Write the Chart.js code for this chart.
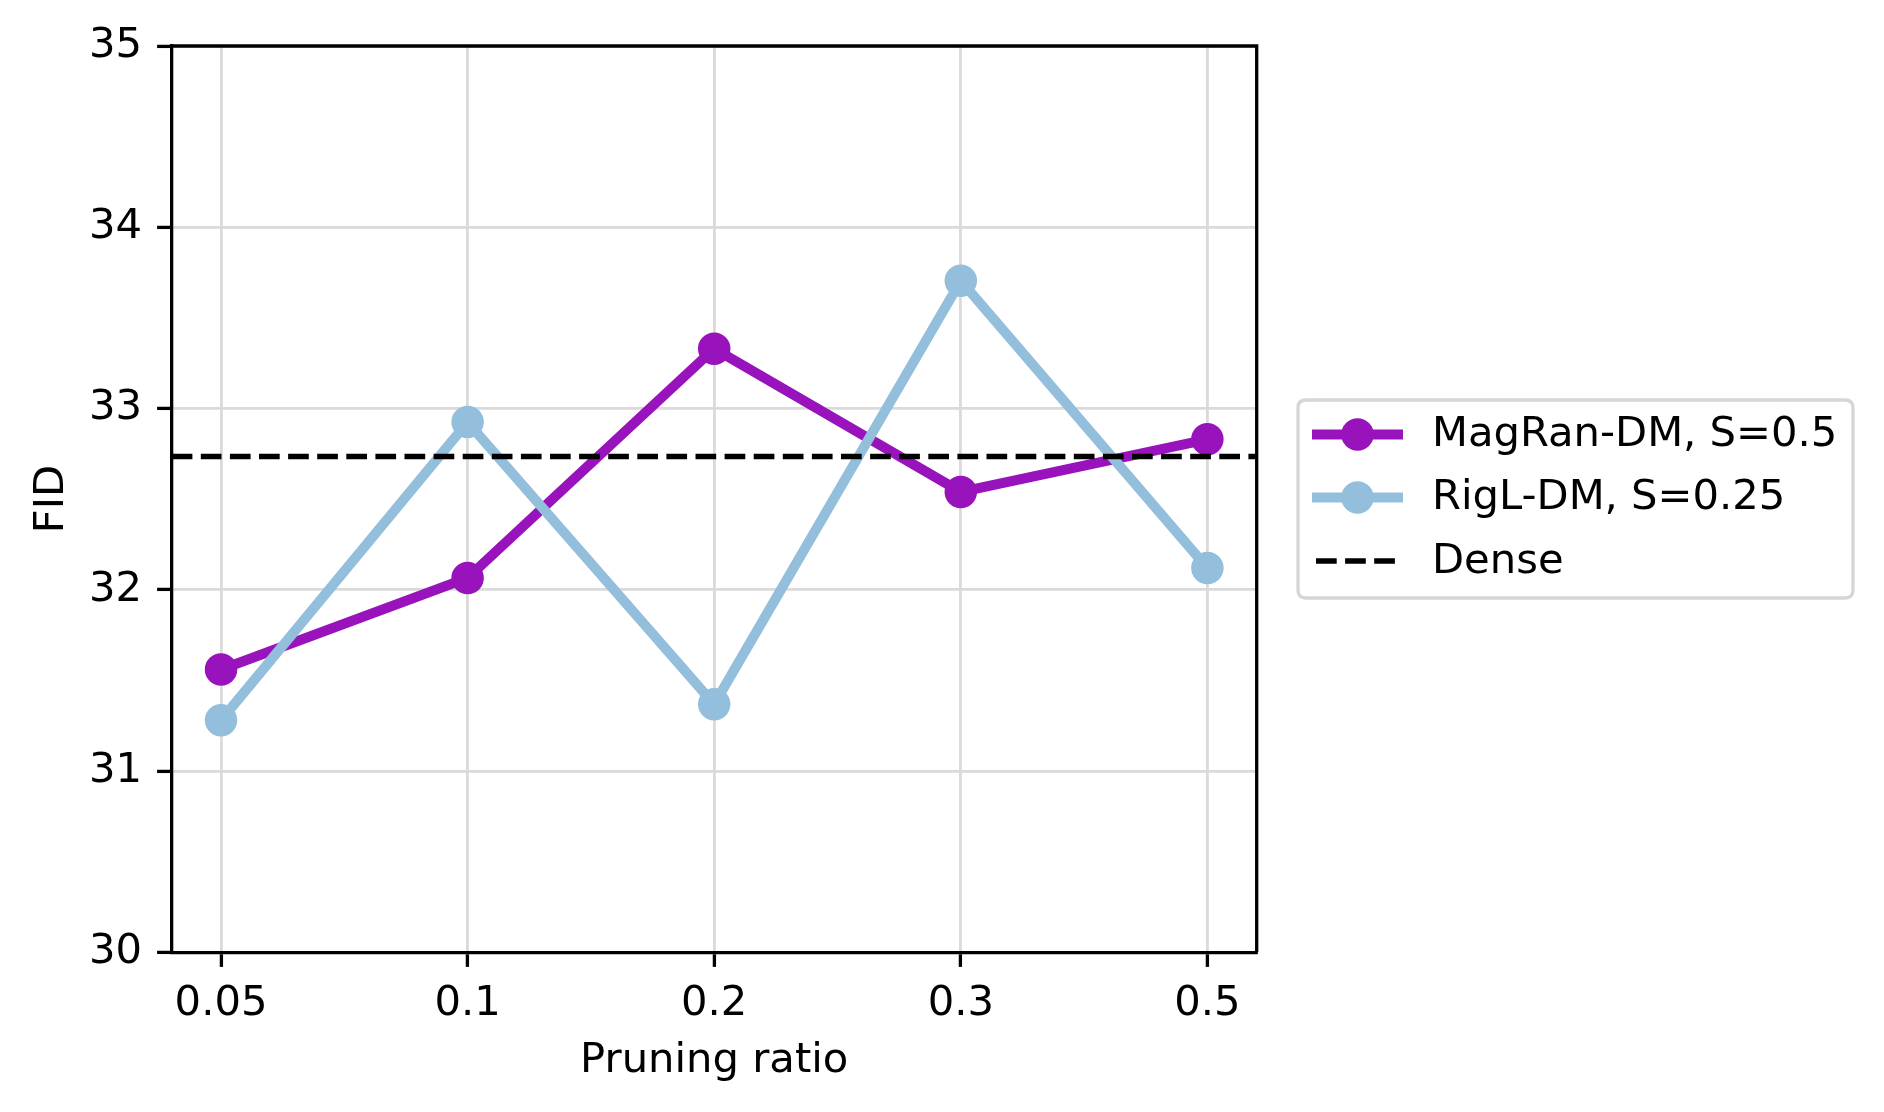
<!DOCTYPE html>
<html>
<head>
<meta charset="utf-8">
<script src="https://cdn.jsdelivr.net/npm/chart.js@4.4.1/dist/chart.umd.min.js"></script>
<style>
html,body{margin:0;padding:0;background:#fff;}
#wrap{width:1884px;height:1112px;position:relative;}
</style>
</head>
<body>
<div id="wrap"><canvas id="c" width="1884" height="1112"></canvas></div>
<script>
// ---- data ----
const pruningRatios = ["0.05", "0.1", "0.2", "0.3", "0.5"];
const magranValues = [31.56, 32.065, 33.33, 32.54, 32.83];
const riglValues = [31.28, 32.925, 31.368, 33.705, 32.12];
const denseValue = 32.735;
const yTickValues = [30, 31, 32, 33, 34, 35];
const seriesLabels = ["MagRan-DM, S=0.5", "RigL-DM, S=0.25", "Dense"];

const FONT = "'DejaVu Sans', sans-serif";
const FS = 41.7;
const PURPLE = "#9913bc";
const BLUE = "#93bfdc";
const xMin = -0.2, xMax = pruningRatios.length - 1 + 0.2;

const magranData = magranValues.map((v, i) => ({x: i, y: v}));
const riglData = riglValues.map((v, i) => ({x: i, y: v}));
const denseData = [{x: xMin, y: denseValue}, {x: xMax, y: denseValue}];

const frameAndLegend = {
  id: 'frameAndLegend',
  afterDraw(chart) {
    const ctx = chart.ctx;
    const a = chart.chartArea;
    ctx.save();
    // top & right spines
    ctx.strokeStyle = '#000';
    ctx.lineWidth = 3.3;
    ctx.beginPath();
    ctx.moveTo(a.left, a.top);
    ctx.lineTo(a.right, a.top);
    ctx.lineTo(a.right, a.bottom);
    ctx.stroke();

    // legend box
    const bx = 1298, by = 400, bw = 555, bh = 198, r = 8;
    ctx.beginPath();
    ctx.moveTo(bx + r, by);
    ctx.lineTo(bx + bw - r, by);
    ctx.quadraticCurveTo(bx + bw, by, bx + bw, by + r);
    ctx.lineTo(bx + bw, by + bh - r);
    ctx.quadraticCurveTo(bx + bw, by + bh, bx + bw - r, by + bh);
    ctx.lineTo(bx + r, by + bh);
    ctx.quadraticCurveTo(bx, by + bh, bx, by + bh - r);
    ctx.lineTo(bx, by + r);
    ctx.quadraticCurveTo(bx, by, bx + r, by);
    ctx.closePath();
    ctx.fillStyle = 'rgba(255,255,255,0.8)';
    ctx.fill();
    ctx.strokeStyle = '#d6d6d6';
    ctx.lineWidth = 3.3;
    ctx.stroke();

    const rows = [434.5, 497.5, 561];
    const hx0 = 1312, hx1 = 1403, tx = 1432;
    chart.data.datasets.forEach((ds, i) => {
      const y = rows[i];
      ctx.save();
      ctx.strokeStyle = ds.borderColor;
      ctx.lineWidth = ds.borderWidth;
      ctx.setLineDash(ds.borderDash || []);
      ctx.lineCap = 'butt';
      ctx.beginPath();
      if (ds.borderDash) {
        ctx.moveTo(hx0 + 4, y);
        ctx.lineTo(hx0 + 4 + 3 * ds.borderDash[0] + 2 * ds.borderDash[1], y);
      } else {
        ctx.moveTo(hx0, y);
        ctx.lineTo(hx1, y);
      }
      ctx.stroke();
      ctx.restore();
      if (ds.pointRadius > 0) {
        ctx.beginPath();
        ctx.arc((hx0 + hx1) / 2, y, ds.pointRadius + ds.pointBorderWidth / 2, 0, Math.PI * 2);
        ctx.fillStyle = ds.pointBackgroundColor;
        ctx.fill();
      }
      ctx.fillStyle = '#000';
      ctx.font = FS + 'px ' + FONT;
      ctx.textAlign = 'left';
      ctx.textBaseline = 'middle';
      ctx.fillText(ds.label, tx, y + 1);
    });
    ctx.restore();
  }
};

new Chart(document.getElementById('c'), {
  type: 'line',
  data: {
    datasets: [
      {
        label: seriesLabels[0], data: magranData, order: 3,
        borderColor: PURPLE, backgroundColor: PURPLE, borderWidth: 10,
        pointRadius: 15, pointBorderWidth: 2.5, pointBackgroundColor: PURPLE, pointBorderColor: PURPLE,
        pointHoverRadius: 15, tension: 0, fill: false
      },
      {
        label: seriesLabels[1], data: riglData, order: 2,
        borderColor: BLUE, backgroundColor: BLUE, borderWidth: 10,
        pointRadius: 15, pointBorderWidth: 2.5, pointBackgroundColor: BLUE, pointBorderColor: BLUE,
        pointHoverRadius: 15, tension: 0, fill: false
      },
      {
        label: seriesLabels[2], data: denseData, order: 1,
        borderColor: '#000', backgroundColor: '#000', borderWidth: 5.4,
        borderDash: [20.7, 8.4], pointRadius: 0, pointHoverRadius: 0, tension: 0, fill: false
      }
    ]
  },
  options: {
    responsive: false,
    animation: false,
    devicePixelRatio: 1,
    layout: { padding: { left: 0, top: 46, right: 627.3, bottom: 0 } },
    plugins: { legend: { display: false }, tooltip: { enabled: false } },
    scales: {
      x: {
        type: 'linear', min: xMin, max: xMax,
        afterBuildTicks(axis) { axis.ticks = pruningRatios.map((_, i) => ({value: i})); },
        afterFit(axis) { axis.height = 159.7; },
        ticks: {
          callback: (v) => pruningRatios[v],
          font: { family: FONT, size: FS }, color: '#000', padding: 12, maxRotation: 0, autoSkip: false
        },
        grid: { color: '#dadada', lineWidth: 2.8, tickColor: '#000', tickWidth: 3.3, tickLength: 14.6 },
        border: { display: true, color: '#000', width: 3.3 },
        title: { display: true, text: 'Pruning ratio', font: { family: FONT, size: FS }, color: '#000', padding: { top: 0, bottom: 26 } }
      },
      y: {
        type: 'linear', min: 30, max: 35,
        afterBuildTicks(axis) { axis.ticks = yTickValues.map(v => ({value: v})); },
        afterFit(axis) { axis.width = 171.7; },
        ticks: { font: { family: FONT, size: FS }, color: '#000', padding: 15 },
        grid: { color: '#dadada', lineWidth: 2.8, tickColor: '#000', tickWidth: 3.3, tickLength: 14.6 },
        border: { display: true, color: '#000', width: 3.3 },
        title: { display: true, text: 'FID', font: { family: FONT, size: FS }, color: '#000', padding: { top: 27, bottom: 0 } }
      }
    }
  },
  plugins: [frameAndLegend]
});
</script>
</body>
</html>
